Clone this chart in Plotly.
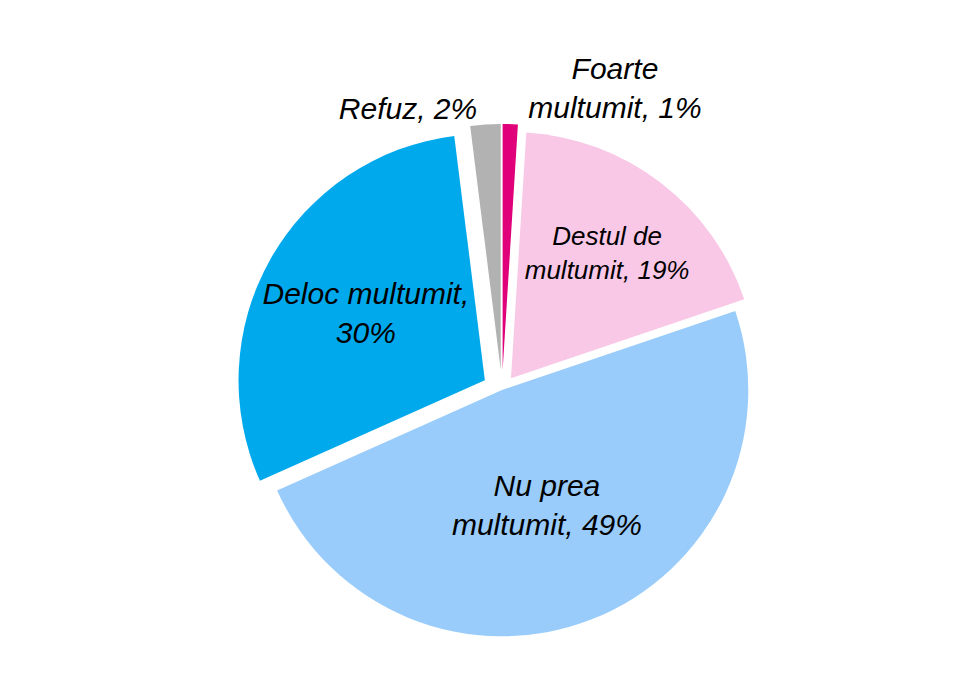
import plotly.graph_objects as go

categories = ["Foarte multumit", "Destul de multumit", "Nu prea multumit", "Deloc multumit", "Refuz"]
values = [1, 19, 49, 30, 2]
label_text = ["Foarte<br>multumit, 1%", "Destul de<br>multumit, 19%", "Nu prea<br>multumit, 49%",
              "Deloc multumit,<br>30%", "Refuz, 2%"]
colors = ["#E0007A", "#F9C8E6", "#99CCFA", "#00A9EC", "#B2B2B2"]
pulls = [0.08, 0.06, 0.0, 0.08, 0.08]
positions = ["outside", "inside", "inside", "inside", "outside"]

fig = go.Figure(go.Pie(
    labels=categories,
    values=values,
    text=["<i>" + t + "</i>" for t in label_text],
    textinfo="text",
    textposition=positions,
    insidetextorientation="horizontal",
    sort=False,
    direction="clockwise",
    rotation=0,
    pull=pulls,
    automargin=True,
    marker=dict(colors=colors, line=dict(color="white", width=0)),
    textfont=dict(family="Liberation Sans, Arial, sans-serif", size=30, color="black"),
    showlegend=False,
    hoverinfo="label+percent",
))

fig.update_layout(
    width=970, height=673,
    margin=dict(l=0, r=0, t=0, b=5),
    paper_bgcolor="white",
    plot_bgcolor="white",
)

fig.write_html("out.html")
